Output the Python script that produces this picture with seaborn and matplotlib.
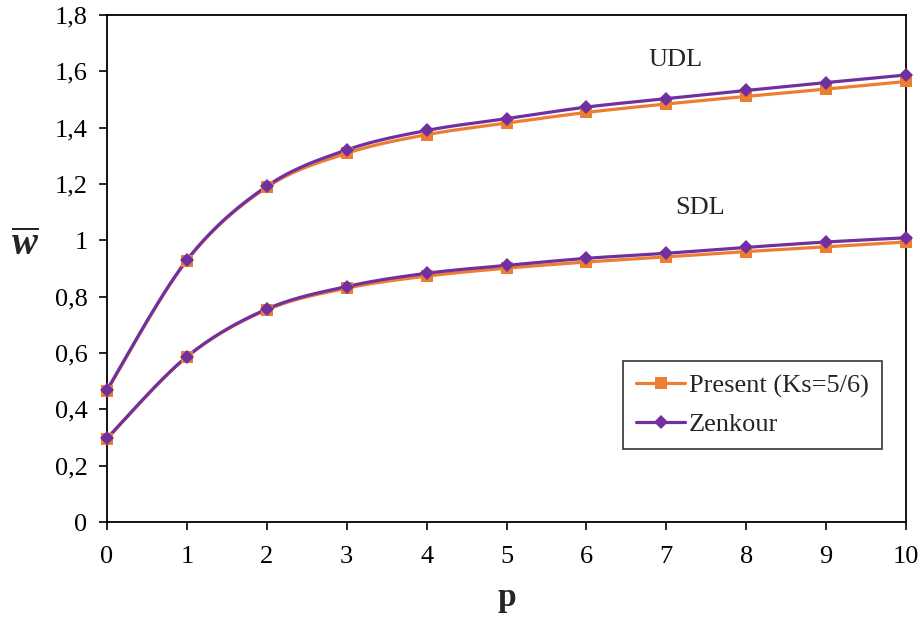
import numpy as np
import pandas as pd
import matplotlib
matplotlib.use("Agg")
import matplotlib.pyplot as plt
from matplotlib.lines import Line2D
from matplotlib.ticker import FuncFormatter
import seaborn as sns

# Power-law index p
p = [0, 1, 2, 3, 4, 5, 6, 7, 8, 9, 10]

# Dimensionless deflection, uniformly distributed load
udl_present = [0.466, 0.928, 1.188, 1.309, 1.375, 1.416, 1.454, 1.484, 1.511, 1.537, 1.564]
udl_zenkour = [0.469, 0.930, 1.192, 1.321, 1.390, 1.432, 1.473, 1.503, 1.532, 1.560, 1.587]

# Dimensionless deflection, sinusoidally distributed load
sdl_present = [0.295, 0.586, 0.753, 0.830, 0.873, 0.901, 0.923, 0.941, 0.960, 0.977, 0.994]
sdl_zenkour = [0.297, 0.587, 0.756, 0.836, 0.883, 0.911, 0.936, 0.954, 0.975, 0.994, 1.009]

series_names = ["Present (Ks=5/6)", "Zenkour"]
y_ticks = [0, 0.2, 0.4, 0.6, 0.8, 1.0, 1.2, 1.4, 1.6, 1.8]
x_ticks = p

ORANGE = "#ED7D31"
PURPLE = "#7030A0"

sns.set_style("ticks")
plt.rcParams["font.family"] = ["Liberation Serif", "DejaVu Serif"]
plt.rcParams["mathtext.fontset"] = "custom"
plt.rcParams["mathtext.it"] = "Liberation Serif:italic:bold"
plt.rcParams["mathtext.rm"] = "Liberation Serif:bold"


def smooth(x, y, n=30):
    """Bezier smoothing through the points, end points repeated as neighbours."""
    pts = np.column_stack([np.asarray(x, float), np.asarray(y, float)])
    ext = np.vstack([pts[:1], pts, pts[-1:]])
    t = np.linspace(0, 1, n, endpoint=False)[:, None]
    out = []
    for i in range(1, len(ext) - 2):
        a, b = ext[i], ext[i + 1]
        c1 = a + (ext[i + 1] - ext[i - 1]) / 6
        c2 = b - (ext[i + 2] - ext[i]) / 6
        seg = ((1 - t) ** 3) * a + 3 * ((1 - t) ** 2) * t * c1 \
            + 3 * (1 - t) * t ** 2 * c2 + t ** 3 * b
        out.append(seg)
    out.append(pts[-1:])
    curve = np.vstack(out)
    return curve[:, 0], curve[:, 1]


fig = plt.figure(figsize=(9.22, 6.19), dpi=100)
ax = fig.add_axes([0.116, 0.1567, 0.8667, 0.8191])

styles = [
    (udl_present, ORANGE, "s", 9.0),
    (sdl_present, ORANGE, "s", 9.0),
    (udl_zenkour, PURPLE, "D", 7.5),
    (sdl_zenkour, PURPLE, "D", 7.5),
]
for vals, color, marker, ms in styles:
    sx, sy = smooth(p, vals)
    ax.plot(sx, sy, color=color, lw=2.3, zorder=2)
    df = pd.DataFrame({"p": p, "w": vals})
    sns.lineplot(data=df, x="p", y="w", ax=ax, linestyle="", marker=marker,
                 markersize=ms, color=color, markeredgecolor=color,
                 markeredgewidth=0, zorder=3, legend=False, clip_on=False)

ax.set_xlim(0, 10)
ax.set_ylim(0, 1.8)
ax.set_xticks(x_ticks)
ax.set_yticks(y_ticks)


def comma_fmt(v, _pos):
    s = f"{v:.1f}".rstrip("0").rstrip(".")
    return s.replace(".", ",")


ax.yaxis.set_major_formatter(FuncFormatter(comma_fmt))
ax.tick_params(axis="both", direction="out", length=6, width=1.2,
               labelsize=19, colors="black", pad=8)
ax.tick_params(axis="x", pad=11)
for s in ax.spines.values():
    s.set_visible(True)
    s.set_color("black")
    s.set_linewidth(1.3)

ax.set_xlabel("p", fontsize=24, fontweight="bold", labelpad=10)
ax.set_ylabel(r"$\overline{w}$", fontsize=28, rotation=0, va="center", ha="center")
ax.yaxis.set_label_coords(-0.102, 0.545)

ax.text(7.11, 1.64, "UDL", fontsize=19, ha="center", va="center")
ax.text(7.42, 1.115, "SDL", fontsize=19, ha="center", va="center")

handles = [
    Line2D([], [], color=ORANGE, lw=2.3, marker="s", markersize=9, markeredgewidth=0),
    Line2D([], [], color=PURPLE, lw=2.3, marker="D", markersize=7, markeredgewidth=0),
]
leg = ax.legend(handles, series_names, loc="upper left",
                bbox_to_anchor=(0.646, 0.318), borderaxespad=0,
                fontsize=19, frameon=True, fancybox=False, handlelength=1.85,
                handletextpad=0.15, borderpad=0.5, labelspacing=0.55)
leg.get_frame().set_edgecolor("black")
leg.get_frame().set_linewidth(1.2)

fig.savefig("out.png", dpi=100)
